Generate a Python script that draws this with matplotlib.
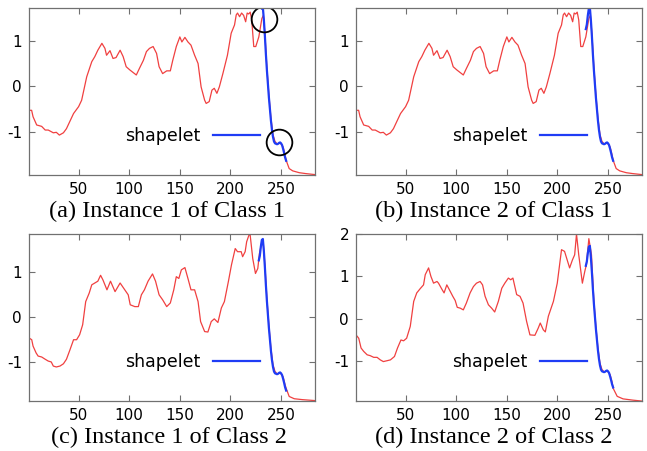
import matplotlib

matplotlib.use("Agg")

import matplotlib.pyplot as plt
import numpy as np

plt.rcParams["axes.unicode_minus"] = False

# red series (x = time index, y = value)
c1i1_x = [1, 3.6, 5, 8.6, 13.5, 17, 20, 25, 28, 31, 35, 38, 45, 50, 53, 58, 63, 66, 69, 73,
          76, 77.6, 81, 84, 87, 91, 94, 97, 100.6, 107, 110, 114, 117, 120, 123.6, 127, 129.5,
          133, 137, 140.6, 143, 146.5, 150, 152, 155, 158, 161, 164.6, 168, 171, 174.5, 176,
          179, 181.7, 184, 186.6, 189, 192.5, 197, 200.7, 204, 205.7, 207, 209, 211, 213, 215,
          216.5, 218, 219.5, 221, 223, 225, 228, 231, 232.5, 234, 236, 238, 240, 242, 244, 246,
          248, 250, 252, 254, 255, 258, 261.5, 268, 274.6, 283]
c1i1_y = [-0.52, -0.52, -0.66, -0.84, -0.87, -0.95, -0.95, -1.01, -1.0, -1.06, -1.01, -0.92,
          -0.59, -0.44, -0.30, 0.21, 0.54, 0.65, 0.79, 0.94, 0.83, 0.68, 0.78, 0.61, 0.63, 0.79,
          0.65, 0.43, 0.36, 0.25, 0.39, 0.57, 0.76, 0.83, 0.87, 0.72, 0.43, 0.28, 0.34, 0.34,
          0.57, 0.87, 1.08, 0.97, 1.07, 0.97, 0.90, 0.68, 0.50, -0.01, -0.30, -0.37, -0.33,
          -0.08, -0.04, -0.15, -0.01, 0.28, 0.68, 1.16, 1.34, 1.56, 1.60, 1.52, 1.60, 1.55,
          1.41, 1.60, 1.58, 1.62, 1.45, 0.87, 0.87, 1.08, 1.48, 1.55, 1.15, 0.40, -0.20, -0.70,
          -1.05, -1.20, -1.25, -1.24, -1.25, -1.32, -1.50, -1.61, -1.79, -1.84, -1.88, -1.90,
          -1.92]

# second instance of class 1 is practically the same curve
c1i2_x = list(c1i1_x)
c1i2_y = list(c1i1_y)

c2i1_x = [1, 3.7, 5, 8, 10, 13.5, 17, 20, 23, 25, 28, 31.6, 35, 38, 41.5, 45, 48, 51, 54, 57,
          60.5, 63, 66, 69, 71.7, 74, 78, 81.5, 86, 91, 95.6, 99, 101, 105.5, 109, 112, 115,
          118.6, 123, 126, 129.5, 133, 137, 140.6, 144, 146.5, 149, 151.5, 155, 158, 161,
          164.6, 168, 170.5, 174.5, 177.7, 181, 184, 187.6, 191, 194, 198, 201, 204.7, 207,
          210.6, 212, 214.5, 216, 218.8, 219.5, 222, 224.7, 227, 228.6, 231, 232.5, 234, 236,
          238, 240, 242, 244, 246, 248, 250, 252, 254, 255, 258, 263, 271, 283]
c2i1_y = [-0.46, -0.50, -0.64, -0.79, -0.86, -0.88, -0.93, -0.97, -0.99, -1.08, -1.10, -1.08,
          -1.03, -0.93, -0.72, -0.50, -0.50, -0.39, -0.17, 0.34, 0.53, 0.71, 0.75, 0.79, 0.92,
          0.82, 0.60, 0.79, 0.56, 0.75, 0.60, 0.49, 0.27, 0.23, 0.23, 0.49, 0.60, 0.79, 0.95,
          0.79, 0.49, 0.38, 0.23, 0.31, 0.60, 0.89, 0.85, 1.04, 1.09, 0.85, 0.60, 0.60, 0.34,
          -0.10, -0.32, -0.33, -0.10, -0.04, -0.12, 0.20, 0.34, 0.79, 1.15, 1.51, 1.44, 1.44,
          1.33, 1.44, 1.66, 1.84, 1.80, 1.29, 0.96, 1.07, 1.40, 1.65, 1.60, 1.15, 0.40, -0.20,
          -0.70, -1.05, -1.20, -1.25, -1.24, -1.25, -1.32, -1.50, -1.57, -1.75, -1.80, -1.82,
          -1.84]

c2i2_x = [1, 3.7, 6, 8.6, 12, 15, 18.5, 21.8, 25, 28, 31.6, 35, 39, 42, 45.4, 48, 51, 54.6, 58,
          61, 64.4, 67.7, 69.4, 72.7, 75, 77.6, 81, 82.5, 86, 88, 90.7, 94, 96.6, 99, 101, 104,
          107, 110, 113.7, 117, 120, 123.6, 126, 128.5, 131.8, 135, 138, 141.6, 145, 148,
          151.5, 153.8, 156, 159.7, 163, 166, 169.5, 172.8, 177.7, 181, 183, 186, 188, 191,
          196, 199.8, 204, 207, 212, 214.8, 217, 218.8, 221, 224.6, 227, 228.6, 231, 233.6,
          236, 238, 240, 242, 244, 246, 248, 250, 252, 254, 255, 259, 264.8, 274.6, 282.8]
c2i2_y = [-0.38, -0.46, -0.69, -0.77, -0.85, -0.87, -0.91, -0.91, -0.97, -1.01, -0.99, -0.97,
          -0.89, -0.69, -0.50, -0.52, -0.46, -0.18, 0.41, 0.61, 0.71, 0.80, 1.04, 1.20, 1.00,
          0.84, 0.88, 0.84, 0.69, 0.61, 0.80, 0.65, 0.53, 0.43, 0.27, 0.25, 0.21, 0.37, 0.61,
          0.76, 0.84, 0.88, 0.80, 0.53, 0.33, 0.25, 0.16, 0.41, 0.72, 0.84, 0.96, 0.92, 0.96,
          0.57, 0.53, 0.37, -0.06, -0.38, -0.39, -0.22, -0.10, -0.26, -0.31, 0.06, 0.41, 0.84,
          1.63, 1.59, 1.20, 1.39, 1.51, 2.00, 1.51, 0.84, 1.12, 1.28, 1.89, 1.51, 0.40, -0.20,
          -0.70, -1.05, -1.20, -1.25, -1.24, -1.25, -1.32, -1.50, -1.64, -1.83, -1.89, -1.92,
          -1.94]

# shapelet (blue), same subsequence matched in every instance
shapelet_x = list(range(228, 256))
shapelet_y = [1.25, 1.35, 1.55, 1.70, 1.72, 1.45, 1.10, 0.70, 0.35, 0.05, -0.25, -0.50, -0.75,
              -0.95, -1.10, -1.20, -1.24, -1.25, -1.26, -1.25, -1.23, -1.22, -1.24, -1.28,
              -1.36, -1.45, -1.55, -1.62]
shapelet_start = [231, 228, 228, 228]

captions = ["(a) Instance 1 of Class 1", "(b) Instance 2 of Class 1",
            "(c) Instance 1 of Class 2", "(d) Instance 2 of Class 2"]
x_ticks = [50, 100, 150, 200, 250]
y_ticks = [[-1, 0, 1], [-1, 0, 1], [-1, 0, 1], [-1, 0, 1, 2]]
y_limits = [(-1.93, 1.71), (-1.93, 1.71), (-1.85, 1.83), (-1.94, 2.0)]

# circled regions in panel (a)
highlight_x = [232.9, 248.4]
highlight_y = [1.48, -1.22]

series = [(c1i1_x, c1i1_y), (c1i2_x, c1i2_y), (c2i1_x, c2i1_y), (c2i2_x, c2i2_y)]

RED = "#f04040"
BLUE = "#1f3cf5"
BORDER = "#707070"

fig = plt.figure(figsize=(6.47, 4.51), dpi=100)
W, H = 647.0, 451.0
panel_px = [(29, 8), (356, 8), (29, 234), (356, 234)]  # left, top in pixels
caption_px = [(167, 211), (494, 211), (169, 437), (494, 437)]

for i, (xs, ys) in enumerate(series):
    left, top = panel_px[i]
    ax = fig.add_axes([left / W, 1 - (top + 167) / H, 286 / W, 167 / H])
    ax.plot(xs, ys, color=RED, lw=0.9)
    sx = np.array(shapelet_x)
    sy = np.array(shapelet_y)
    keep = sx >= shapelet_start[i]
    ax.plot(sx[keep], sy[keep], color=BLUE, lw=1.6, label="shapelet")
    if i == 0:
        ax.plot(highlight_x, highlight_y, "o", ms=18.5, mfc="none", mec="black", mew=1.3)
    ax.set_xlim(1, 283.5)
    ax.set_ylim(*y_limits[i])
    ax.set_xticks(x_ticks)
    ax.set_yticks(y_ticks[i])
    ax.tick_params(direction="in", top=True, right=True, length=4, width=0.8,
                   color=BORDER, labelsize=11, pad=5)
    for spine in ax.spines.values():
        spine.set_color(BORDER)
        spine.set_linewidth(0.9)
    ax.legend(loc="center right", bbox_to_anchor=(0.808, 0.234), frameon=False,
              markerfirst=False, fontsize=12.5, handlelength=2.7, handletextpad=0.75,
              borderpad=0, borderaxespad=0)
    cx, cy = caption_px[i]
    fig.text(cx / W, 1 - cy / H, captions[i], ha="center", va="center",
             family="Liberation Serif", fontsize=17.5)

fig.savefig("out.png", dpi=100, facecolor="white")
